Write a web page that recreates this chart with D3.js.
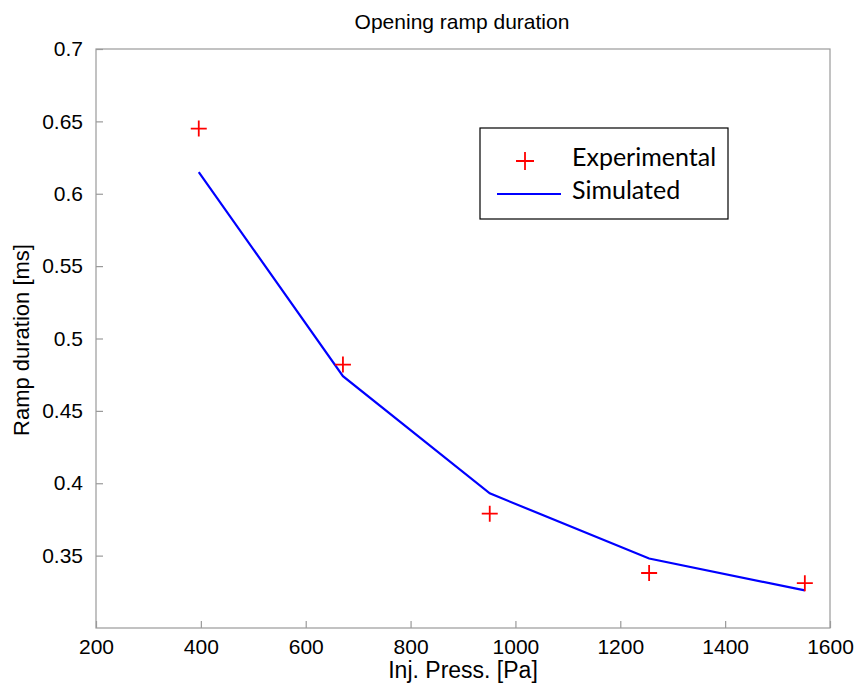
<!DOCTYPE html>
<html>
<head>
<meta charset="utf-8">
<script src="https://cdn.jsdelivr.net/npm/d3@7"></script>
<style>
  html, body { margin: 0; padding: 0; background: #fff; }
  svg { display: block; }
  text { font-family: "Liberation Sans", Arial, sans-serif; fill: #000; }
</style>
</head>
<body>
<svg id="chart" width="857" height="688"></svg>
<script>
// Injection pressure [Pa]
const pressure = [396, 671, 951, 1255, 1552];
// Measured ramp duration [ms]
const experimental = [0.645, 0.482, 0.379, 0.338, 0.331];
// Model ramp duration [ms]
const simulated = [0.615, 0.474, 0.393, 0.348, 0.326];
const xTicks = [200, 400, 600, 800, 1000, 1200, 1400, 1600];
const yTicks = [0.35, 0.4, 0.45, 0.5, 0.55, 0.6, 0.65, 0.7];

const svg = d3.select("#chart");
const m = { left: 96, right: 830, top: 49, bottom: 628 };

const x = d3.scaleLinear().domain([200, 1600]).range([m.left, m.right]);
const y = d3.scaleLinear().domain([0.3, 0.7]).range([m.bottom, m.top]);

const axisColor = "#9a9a9a";

// frame
svg.append("rect")
  .attr("x", m.left).attr("y", m.top)
  .attr("width", m.right - m.left).attr("height", m.bottom - m.top)
  .attr("fill", "none").attr("stroke", axisColor).attr("stroke-width", 1.2);

// x axis
const xAxis = svg.append("g")
  .attr("transform", `translate(0,${m.bottom})`)
  .call(d3.axisBottom(x).tickValues(xTicks).tickSize(-7).tickPadding(11).tickFormat(d3.format("d")));
xAxis.select(".domain").remove();
xAxis.selectAll(".tick line").attr("stroke", axisColor).attr("stroke-width", 1.2);
xAxis.selectAll(".tick text").style("font-size", "21px").attr("dy", "0.71em");

// y axis
const yAxis = svg.append("g")
  .attr("transform", `translate(${m.left},0)`)
  .call(d3.axisLeft(y).tickValues(yTicks).tickSize(-7).tickPadding(13).tickFormat(d => String(+d.toFixed(2))));
yAxis.select(".domain").remove();
yAxis.selectAll(".tick line").attr("stroke", axisColor).attr("stroke-width", 1.2);
yAxis.selectAll(".tick text").style("font-size", "21px");

// title and axis labels
svg.append("text").attr("x", 462).attr("y", 29).attr("text-anchor", "middle")
  .style("font-size", "21px").text("Opening ramp duration");
svg.append("text").attr("x", 463).attr("y", 678).attr("text-anchor", "middle")
  .style("font-size", "23px").text("Inj. Press. [Pa]");
svg.append("text").attr("transform", "translate(29,340) rotate(-90)").attr("text-anchor", "middle")
  .style("font-size", "22px").text("Ramp duration [ms]");

// simulated line
const line = d3.line().x((d, i) => x(pressure[i])).y(d => y(d));
svg.append("path").datum(simulated)
  .attr("d", line).attr("fill", "none").attr("stroke", "#0000ff").attr("stroke-width", 2.2);

// experimental markers
const plus = 8;
const pts = svg.append("g").selectAll("g").data(experimental).join("g")
  .attr("transform", (d, i) => `translate(${x(pressure[i])},${y(d)})`);
pts.append("path")
  .attr("d", `M${-plus},0H${plus}M0,${-plus}V${plus}`)
  .attr("stroke", "#ff0000").attr("stroke-width", 1.8).attr("fill", "none");

// legend
const lg = svg.append("g").attr("transform", "translate(480,128)");
lg.append("rect").attr("width", 248).attr("height", 91)
  .attr("fill", "#fff").attr("stroke", "#000").attr("stroke-width", 1.2);
const lp = 9;
lg.append("path").attr("d", `M${45 - lp},33H${45 + lp}M45,${33 - lp}V${33 + lp}`)
  .attr("stroke", "#ff0000").attr("stroke-width", 1.8);
lg.append("line").attr("x1", 17).attr("x2", 81).attr("y1", 66).attr("y2", 66)
  .attr("stroke", "#0000ff").attr("stroke-width", 2.2);
lg.append("text").attr("x", 92).attr("y", 38).style("font-family", "Lato, sans-serif")
  .style("font-size", "25px").text("Experimental");
lg.append("text").attr("x", 92).attr("y", 71).style("font-family", "Lato, sans-serif")
  .style("font-size", "25px").text("Simulated");
</script>
</body>
</html>
